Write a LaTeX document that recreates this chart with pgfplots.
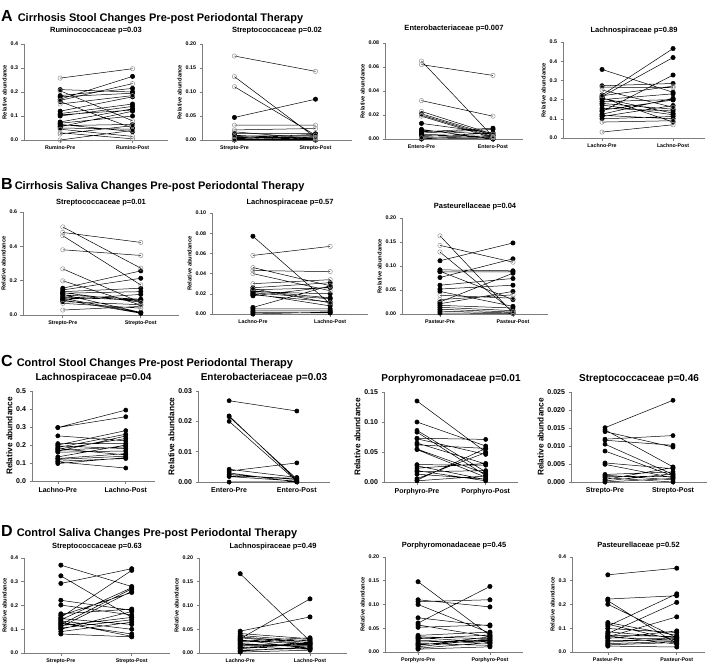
\documentclass[border=0pt]{standalone}
\usepackage{pgfplots}
\pgfplotsset{compat=1.18}
\usepackage{fontspec}
\setmainfont{Liberation Sans}
\definecolor{axgray}{RGB}{125,125,125}
\definecolor{opgray}{RGB}{150,150,150}
\pgfplotsset{
  gp/.style={
    scale only axis, clip=false, anchor=south west,
    axis x line*=bottom, axis y line*=left,
    axis line style={line width=0.7pt, draw=axgray},
    tick style={line width=0.6pt, draw=axgray},
    tick align=outside, major tick length=2.5pt,
    ymin=0, xtick={0,1},
    scaled y ticks=false,
    yticklabel style={/pgf/number format/fixed, /pgf/number format/fixed zerofill},
    /pgf/number format/assume math mode=true,
    ylabel={Relative abundance},
    ylabel shift=-3pt,
    unbounded coords=jump,
  },
  sm/.style={
    tick label style={font=\bfseries\fontsize{5.3}{6}\selectfont},
    label style={font=\bfseries\fontsize{5.8}{6}\selectfont},
    title style={font=\bfseries\fontsize{7.5}{8}\selectfont, at={(0.5,1)}, anchor=center, yshift=#1},
  },
  bg/.style={
    tick label style={font=\bfseries\fontsize{7}{8}\selectfont},
    label style={font=\bfseries\fontsize{8.3}{9}\selectfont},
    title style={font=\bfseries\fontsize{10}{11}\selectfont, at={(0.5,1)}, anchor=center, yshift=#1},
  },
  prec/.style={yticklabel style={/pgf/number format/precision=#1}},
  opn/.style={black, line width=0.5pt, mark=o, mark size=2.2pt, mark options={draw=opgray, fill=white, line width=0.5pt}},
  fil/.style={black, line width=0.5pt, mark=*, mark size=2.2pt, mark options={fill=black, draw=black}},
  filc/.style={black, line width=0.5pt, mark=*, mark size=2.1pt, mark options={fill=black, draw=black}},
}
\begin{document}
\begin{tikzpicture}
\path[use as bounding box] (0pt,0pt) rectangle (714pt,-665pt);
% headers
\node[anchor=west, inner sep=0pt] at (1pt,-17pt) {\bfseries\fontsize{16}{16}\selectfont A\hspace{5pt}\fontsize{11}{12}\selectfont Cirrhosis Stool Changes Pre-post Periodontal Therapy};
\node[anchor=west, inner sep=0pt] at (1pt,-185pt) {\bfseries\fontsize{16}{16}\selectfont B\hspace{2pt}\fontsize{11}{12}\selectfont Cirrhosis Saliva Changes Pre-post Periodontal Therapy};
\node[anchor=west, inner sep=0pt] at (1pt,-362pt) {\bfseries\fontsize{16}{16}\selectfont C\hspace{4pt}\fontsize{11}{12}\selectfont Control Stool Changes Pre-post Periodontal Therapy};
\node[anchor=west, inner sep=0pt] at (1pt,-532pt) {\bfseries\fontsize{16}{16}\selectfont D\hspace{4pt}\fontsize{11}{12}\selectfont Control Saliva Changes Pre-post Periodontal Therapy};

% ---------------- Row A ----------------
\begin{axis}[gp, sm=7pt, prec=1, at={(24pt,-140pt)}, width=144pt, height=96pt,
  xmin=-0.5, xmax=1.49, ymax=0.4, ytick={0,0.1,0.2,0.3,0.4},
  xticklabels={Rumino-Pre,Rumino-Post}, title={Ruminococcaceae p=0.03}]
\addplot[fil] coordinates {(0,0.210)(1,0.200)(0,nan) (0,0.185)(1,0.215)(0,nan) (0,0.180)(1,0.195)(0,nan) (0,0.170)(1,0.265)(0,nan) (0,0.160)(1,0.050)(0,nan) (0,0.120)(1,0.180)(0,nan) (0,0.110)(1,0.150)(0,nan) (0,0.105)(1,0.125)(0,nan) (0,0.100)(1,0.140)(0,nan) (0,0.075)(1,0.130)(0,nan) (0,0.070)(1,0.100)(0,nan) (0,0.065)(1,0.035)(0,nan) (0,0.060)(1,0.065)(0,nan) (0,0.055)(1,0.120)(0,nan) (0,0.050)(1,0.045)};
\addplot[opn] coordinates {(0,0.258)(1,0.297)(0,nan) (0,0.205)(1,0.080)(0,nan) (0,0.165)(1,0.235)(0,nan) (0,0.150)(1,0.185)(0,nan) (0,0.045)(1,0.015)(0,nan) (0,0.030)(1,0.005)(0,nan) (0,0.025)(1,0.060)(0,nan) (0,0.000)(1,0.040)};
\end{axis}

\begin{axis}[gp, sm=7pt, prec=2, at={(202pt,-140pt)}, width=150pt, height=96pt,
  xmin=-0.4, xmax=1.45, ymax=0.2, ytick={0,0.05,0.1,0.15,0.2},
  xticklabels={Strepto-Pre,Strepto-Post}, title={Streptococcaceae p=0.02}]
\addplot[fil] coordinates {(0,0.047)(1,0.085)(0,nan) (0,0.014)(1,0.013)(0,nan) (0,0.010)(1,0.002)(0,nan) (0,0.008)(1,0.010)(0,nan) (0,0.006)(1,0.001)(0,nan) (0,0.005)(1,0.004)(0,nan) (0,0.004)(1,0.007)(0,nan) (0,0.003)(1,0.000)(0,nan) (0,0.002)(1,0.001)(0,nan) (0,0.001)(1,0.002)(0,nan) (0,0.000)(1,0.000)(0,nan) (0,0.003)(1,0.012)};
\addplot[opn] coordinates {(0,0.175)(1,0.143)(0,nan) (0,0.132)(1,0.005)(0,nan) (0,0.111)(1,0.010)(0,nan) (0,0.031)(1,0.031)(0,nan) (0,0.021)(1,0.024)(0,nan) (0,0.017)(1,0.003)(0,nan) (0,0.007)(1,0.005)(0,nan) (0,0.001)(1,0.000)};
\end{axis}

\begin{axis}[gp, sm=8pt, prec=2, at={(385pt,-139pt)}, width=138pt, height=96pt,
  xmin=-0.51, xmax=1.42, ymax=0.08, ytick={0,0.02,0.04,0.06,0.08},
  xticklabels={Entero-Pre,Entero-Post}, title={Enterobacteriaceae p=0.007}]
\addplot[fil] coordinates {(0,0.021)(1,0.003)(0,nan) (0,0.013)(1,0.005)(0,nan) (0,0.008)(1,0.000)(0,nan) (0,0.007)(1,0.004)(0,nan) (0,0.006)(1,0.009)(0,nan) (0,0.005)(1,0.008)(0,nan) (0,0.004)(1,0.002)(0,nan) (0,0.003)(1,0.001)(0,nan) (0,0.002)(1,0.005)(0,nan) (0,0.001)(1,0.000)(0,nan) (0,0.000)(1,0.003)};
\addplot[opn] coordinates {(0,0.065)(1,0.002)(0,nan) (0,0.062)(1,0.053)(0,nan) (0,0.032)(1,0.019)(0,nan) (0,0.023)(1,0.004)(0,nan) (0,0.020)(1,0.002)(0,nan) (0,0.019)(1,0.001)(0,nan) (0,0.001)(1,0.001)};
\end{axis}

\begin{axis}[gp, sm=5pt, prec=1, at={(563pt,-138pt)}, width=142pt, height=96pt,
  xmin=-0.55, xmax=1.45, ymax=0.5, ytick={0,0.1,0.2,0.3,0.4,0.5},
  xticklabels={Lachno-Pre,Lachno-Post}, title={Lachnospiraceae p=0.89}]
\addplot[fil] coordinates {(0,0.357)(1,0.238)(0,nan) (0,0.272)(1,0.284)(0,nan) (0,0.224)(1,0.466)(0,nan) (0,0.216)(1,0.419)(0,nan) (0,0.207)(1,0.129)(0,nan) (0,0.190)(1,0.200)(0,nan) (0,0.172)(1,0.121)(0,nan) (0,0.155)(1,0.141)(0,nan) (0,0.138)(1,0.328)(0,nan) (0,0.124)(1,0.207)(0,nan) (0,0.112)(1,0.169)(0,nan) (0,0.100)(1,0.112)(0,nan) (0,0.210)(1,0.083)(0,nan) (0,0.200)(1,0.230)(0,nan) (0,0.180)(1,0.150)(0,nan) (0,0.145)(1,0.198)(0,nan) (0,0.118)(1,0.100)};
\addplot[opn] coordinates {(0,0.265)(1,0.262)(0,nan) (0,0.250)(1,0.160)(0,nan) (0,0.083)(1,0.090)(0,nan) (0,0.031)(1,0.069)(0,nan) (0,0.220)(1,0.270)};
\end{axis}

% ---------------- Row B ----------------
\begin{axis}[gp, sm=3pt, prec=1, at={(23pt,-315pt)}, width=156pt, height=103pt,
  xmin=-0.51, xmax=1.49, ymax=0.6, ytick={0,0.2,0.4,0.6},
  xticklabels={Strepto-Pre,Strepto-Post}, title={Streptococcaceae p=0.01}]
\addplot[fil] coordinates {(0,0.156)(1,0.257)(0,nan) (0,0.146)(1,0.214)(0,nan) (0,0.136)(1,0.156)(0,nan) (0,0.127)(1,0.136)(0,nan) (0,0.117)(1,0.092)(0,nan) (0,0.107)(1,0.084)(0,nan) (0,0.097)(1,0.014)(0,nan) (0,0.088)(1,0.010)(0,nan) (0,0.078)(1,0.060)(0,nan) (0,0.130)(1,0.075)(0,nan) (0,0.100)(1,0.090)(0,nan) (0,0.090)(1,0.120)(0,nan) (0,0.120)(1,0.015)};
\addplot[opn] coordinates {(0,0.513)(1,0.273)(0,nan) (0,0.481)(1,0.423)(0,nan) (0,0.462)(1,0.175)(0,nan) (0,0.380)(1,0.347)(0,nan) (0,0.269)(1,0.072)(0,nan) (0,0.199)(1,0.058)(0,nan) (0,0.068)(1,0.040)(0,nan) (0,0.029)(1,0.050)};
\end{axis}

\begin{axis}[gp, sm=4pt, prec=2, at={(212pt,-314pt)}, width=156pt, height=101pt,
  xmin=-0.53, xmax=1.49, ymax=0.1, ytick={0,0.02,0.04,0.06,0.08,0.1},
  xticklabels={Lachno-Pre,Lachno-Post}, title={Lachnospiraceae p=0.57}]
\addplot[fil] coordinates {(0,0.077)(1,0.010)(0,nan) (0,0.026)(1,0.031)(0,nan) (0,0.024)(1,0.026)(0,nan) (0,0.023)(1,0.016)(0,nan) (0,0.021)(1,0.015)(0,nan) (0,0.020)(1,0.008)(0,nan) (0,0.018)(1,0.027)(0,nan) (0,0.0065)(1,0.028)(0,nan) (0,0.005)(1,0.005)(0,nan) (0,0.003)(1,0.003)(0,nan) (0,0.0016)(1,0.001)(0,nan) (0,0.000)(1,0.002)(0,nan) (0,0.022)(1,0.020)(0,nan) (0,0.019)(1,0.012)};
\addplot[opn] coordinates {(0,0.058)(1,0.067)(0,nan) (0,0.046)(1,0.028)(0,nan) (0,0.043)(1,0.042)(0,nan) (0,0.040)(1,0.023)(0,nan) (0,0.030)(1,0.034)(0,nan) (0,0.025)(1,0.011)};
\end{axis}

\begin{axis}[gp, sm=5pt, prec=2, at={(402pt,-314pt)}, width=146pt, height=96pt,
  xmin=-0.52, xmax=1.48, ymax=0.2, ytick={0,0.05,0.1,0.15,0.2},
  xticklabels={Pasteur-Pre,Pasteur-Post}, title={Pasteurellaceae p=0.04}]
\addplot[fil] coordinates {(0,0.111)(1,0.148)(0,nan) (0,0.092)(1,0.090)(0,nan) (0,0.089)(1,0.030)(0,nan) (0,0.076)(1,0.115)(0,nan) (0,0.060)(1,0.074)(0,nan) (0,0.052)(1,0.060)(0,nan) (0,0.047)(1,0.016)(0,nan) (0,0.025)(1,0.085)(0,nan) (0,0.0215)(1,0.047)(0,nan) (0,0.018)(1,0.0125)(0,nan) (0,0.014)(1,0.007)(0,nan) (0,0.010)(1,0.004)(0,nan) (0,0.006)(1,0.002)(0,nan) (0,0.002)(1,0.001)(0,nan) (0,0.088)(1,0.088)};
\addplot[opn] coordinates {(0,0.163)(1,0.002)(0,nan) (0,0.143)(1,0.108)(0,nan) (0,0.129)(1,0.005)(0,nan) (0,0.039)(1,0.033)(0,nan) (0,0.030)(1,0.040)};
\end{axis}

% ---------------- Row C ----------------
\begin{axis}[gp, bg=7pt, prec=1, at={(32pt,-481pt)}, width=123pt, height=90pt,
  xmin=-0.38, xmax=1.43, ymax=0.5, ytick={0,0.1,0.2,0.3,0.4,0.5},
  xticklabels={Lachno-Pre,Lachno-Post}, title={Lachnospiraceae p=0.04}]
\addplot[filc] coordinates {(0,0.297)(1,0.394)(0,nan) (0,0.297)(1,0.357)(0,nan) (0,0.251)(1,0.223)(0,nan) (0,0.208)(1,0.208)(0,nan) (0,0.200)(1,0.280)(0,nan) (0,0.195)(1,0.180)(0,nan) (0,0.186)(1,0.260)(0,nan) (0,0.180)(1,0.145)(0,nan) (0,0.177)(1,0.236)(0,nan) (0,0.170)(1,0.190)(0,nan) (0,0.165)(1,0.250)(0,nan) (0,0.160)(1,0.167)(0,nan) (0,0.134)(1,0.200)(0,nan) (0,0.125)(1,0.152)(0,nan) (0,0.120)(1,0.138)(0,nan) (0,0.110)(1,0.125)(0,nan) (0,0.106)(1,0.072)(0,nan) (0,0.097)(1,0.130)};
\end{axis}

\begin{axis}[gp, bg=7pt, prec=2, at={(198pt,-482pt)}, width=132pt, height=91pt,
  xmin=-0.46, xmax=1.49, ymax=0.03, ytick={0,0.01,0.02,0.03},
  xticklabels={Entero-Pre,Entero-Post}, title={Enterobacteriaceae p=0.03}]
\addplot[filc] coordinates {(0,0.0268)(1,0.0234)(0,nan) (0,0.0218)(1,0.0005)(0,nan) (0,0.0215)(1,0.0010)(0,nan) (0,0.0200)(1,0.0002)(0,nan) (0,0.0042)(1,0.0015)(0,nan) (0,0.0036)(1,0.0063)(0,nan) (0,0.0030)(1,0.0000)(0,nan) (0,0.0025)(1,0.0008)(0,nan) (0,0.0020)(1,0.0012)(0,nan) (0,0.0018)(1,0.0003)(0,nan) (0,0.0000)(1,0.0001)};
\end{axis}

\begin{axis}[gp, bg=7pt, prec=2, at={(384pt,-482pt)}, width=134pt, height=90pt,
  xmin=-0.48, xmax=1.47, ymax=0.15, ytick={0,0.05,0.1,0.15},
  xticklabels={Porphyro-Pre,Porphyro-Post}, title={Porphyromonadaceae p=0.01}]
\addplot[filc] coordinates {(0,0.135)(1,0.050)(0,nan) (0,0.100)(1,0.060)(0,nan) (0,0.086)(1,0.017)(0,nan) (0,0.083)(1,0.011)(0,nan) (0,0.073)(1,0.071)(0,nan) (0,0.072)(1,0.046)(0,nan) (0,0.065)(1,0.030)(0,nan) (0,0.062)(1,0.056)(0,nan) (0,0.055)(1,0.014)(0,nan) (0,0.054)(1,0.008)(0,nan) (0,0.029)(1,0.028)(0,nan) (0,0.027)(1,0.004)(0,nan) (0,0.023)(1,0.031)(0,nan) (0,0.019)(1,0.002)(0,nan) (0,0.017)(1,0.019)(0,nan) (0,0.013)(1,0.005)(0,nan) (0,0.0056)(1,0.049)(0,nan) (0,0.003)(1,0.056)(0,nan) (0,0.002)(1,0.010)};
\end{axis}

\begin{axis}[gp, bg=7pt, prec=3, at={(571pt,-482pt)}, width=136pt, height=90pt,
  xmin=-0.5, xmax=1.5, ymax=0.025, ytick={0,0.005,0.01,0.015,0.02,0.025},
  xticklabels={Strepto-Pre,Strepto-Post}, title={Streptococcaceae p=0.46}]
\addplot[filc] coordinates {(0,0.0151)(1,0.0227)(0,nan) (0,0.0145)(1,0.0042)(0,nan) (0,0.0140)(1,0.0097)(0,nan) (0,0.0119)(1,0.0129)(0,nan) (0,0.0116)(1,0.0102)(0,nan) (0,0.0105)(1,0.0021)(0,nan) (0,0.0086)(1,0.0017)(0,nan) (0,0.0053)(1,0.0037)(0,nan) (0,0.0049)(1,0.0012)(0,nan) (0,0.0021)(1,0.0028)(0,nan) (0,0.0019)(1,0.0006)(0,nan) (0,0.0016)(1,0.0015)(0,nan) (0,0.0012)(1,0.0000)(0,nan) (0,0.0007)(1,0.0040)(0,nan) (0,0.0003)(1,0.0023)(0,nan) (0,0.0000)(1,0.0010)};
\end{axis}

% ---------------- Row D ----------------
\begin{axis}[gp, sm=5pt, prec=1, at={(24pt,-653pt)}, width=146pt, height=95pt,
  xmin=-0.52, xmax=1.54, ymax=0.4, ytick={0,0.1,0.2,0.3,0.4},
  xticklabels={Strepto-Pre,Strepto-Post}, title={Streptococcaceae p=0.63}]
\addplot[fil] coordinates {(0,0.370)(1,0.280)(0,nan) (0,0.325)(1,0.150)(0,nan) (0,0.293)(1,0.355)(0,nan) (0,0.222)(1,0.180)(0,nan) (0,0.202)(1,0.160)(0,nan) (0,0.165)(1,0.185)(0,nan) (0,0.158)(1,0.255)(0,nan) (0,0.150)(1,0.348)(0,nan) (0,0.145)(1,0.120)(0,nan) (0,0.140)(1,0.275)(0,nan) (0,0.135)(1,0.100)(0,nan) (0,0.130)(1,0.070)(0,nan) (0,0.120)(1,0.270)(0,nan) (0,0.110)(1,0.260)(0,nan) (0,0.105)(1,0.140)(0,nan) (0,0.100)(1,0.175)(0,nan) (0,0.090)(1,0.130)(0,nan) (0,0.080)(1,0.068)(0,nan) (0,0.115)(1,0.150)(0,nan) (0,0.125)(1,0.080)};
\end{axis}

\begin{axis}[gp, sm=5pt, prec=2, at={(199pt,-653pt)}, width=148pt, height=95pt,
  xmin=-0.59, xmax=1.53, ymax=0.2, ytick={0,0.05,0.1,0.15,0.2},
  xticklabels={Lachno-Pre,Lachno-Post}, title={Lachnospiraceae p=0.49}]
\addplot[fil] coordinates {(0,0.167)(1,0.025)(0,nan) (0,0.046)(1,0.076)(0,nan) (0,0.030)(1,0.114)(0,nan) (0,0.041)(1,0.030)(0,nan) (0,0.037)(1,0.025)(0,nan) (0,0.034)(1,0.022)(0,nan) (0,0.027)(1,0.018)(0,nan) (0,0.023)(1,0.028)(0,nan) (0,0.020)(1,0.012)(0,nan) (0,0.016)(1,0.015)(0,nan) (0,0.013)(1,0.008)(0,nan) (0,0.009)(1,0.020)(0,nan) (0,0.006)(1,0.010)(0,nan) (0,0.002)(1,0.006)(0,nan) (0,0.025)(1,0.032)(0,nan) (0,0.018)(1,0.017)(0,nan) (0,0.011)(1,0.022)(0,nan) (0,0.004)(1,0.013)(0,nan) (0,0.032)(1,0.019)(0,nan) (0,0.028)(1,0.009)};
\end{axis}

\begin{axis}[gp, sm=5pt, prec=2, at={(385pt,-652pt)}, width=138pt, height=95pt,
  xmin=-0.46, xmax=1.46, ymax=0.2, ytick={0,0.05,0.1,0.15,0.2},
  xticklabels={Porphyro-Pre,Porphyro-Post}, title={Porphyromonadaceae p=0.45}]
\addplot[fil] coordinates {(0,0.148)(1,0.035)(0,nan) (0,0.110)(1,0.095)(0,nan) (0,0.106)(1,0.110)(0,nan) (0,0.100)(1,0.040)(0,nan) (0,0.072)(1,0.055)(0,nan) (0,0.061)(1,0.138)(0,nan) (0,0.057)(1,0.032)(0,nan) (0,0.052)(1,0.057)(0,nan) (0,0.035)(1,0.042)(0,nan) (0,0.032)(1,0.028)(0,nan) (0,0.030)(1,0.021)(0,nan) (0,0.025)(1,0.018)(0,nan) (0,0.021)(1,0.025)(0,nan) (0,0.018)(1,0.014)(0,nan) (0,0.014)(1,0.032)(0,nan) (0,0.011)(1,0.028)(0,nan) (0,0.006)(1,0.011)(0,nan) (0,0.028)(1,0.036)(0,nan) (0,0.016)(1,0.024)(0,nan) (0,0.008)(1,0.020)};
\end{axis}

\begin{axis}[gp, sm=5pt, prec=1, at={(572pt,-652pt)}, width=133pt, height=95pt,
  xmin=-0.52, xmax=1.41, ymax=0.4, ytick={0,0.1,0.2,0.3,0.4},
  xticklabels={Pasteur-Pre,Pasteur-Post}, title={Pasteurellaceae p=0.52}]
\addplot[fil] coordinates {(0,0.325)(1,0.353)(0,nan) (0,0.223)(1,0.237)(0,nan) (0,0.216)(1,0.035)(0,nan) (0,0.201)(1,0.060)(0,nan) (0,0.124)(1,0.070)(0,nan) (0,0.117)(1,0.050)(0,nan) (0,0.109)(1,0.245)(0,nan) (0,0.099)(1,0.082)(0,nan) (0,0.085)(1,0.060)(0,nan) (0,0.078)(1,0.209)(0,nan) (0,0.071)(1,0.065)(0,nan) (0,0.064)(1,0.148)(0,nan) (0,0.057)(1,0.089)(0,nan) (0,0.049)(1,0.050)(0,nan) (0,0.042)(1,0.057)(0,nan) (0,0.035)(1,0.045)(0,nan) (0,0.025)(1,0.021)(0,nan) (0,0.068)(1,0.033)(0,nan) (0,0.060)(1,0.055)(0,nan) (0,0.030)(1,0.040)};
\end{axis}
\end{tikzpicture}
\end{document}
